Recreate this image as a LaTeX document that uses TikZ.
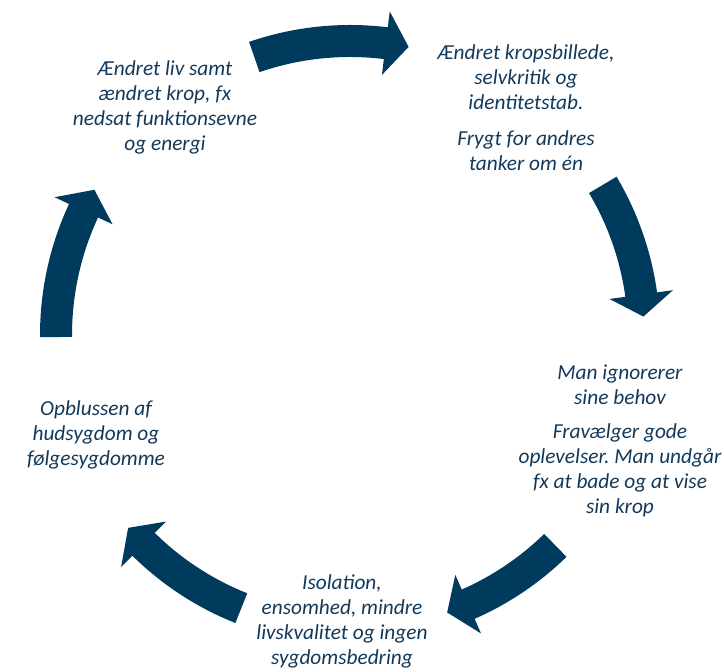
\documentclass[tikz,border=0pt]{standalone}
\usepackage{fontspec}
\setmainfont{Carlito}
\frenchspacing
\definecolor{navy}{HTML}{003A5D}
\definecolor{navytext}{HTML}{12395A}

\begin{document}
\begin{tikzpicture}[x=0.75pt,y=0.75pt,
    txt/.style = {align=center, inner sep=0pt, text=navytext,
                  font=\fontsize{16}{18.75}\selectfont\itshape},
    arr/.style = {fill=navy}]
    \useasboundingbox (0,0) rectangle (724,671);

    \node[txt](liv) at (165,564) {Ændret liv samt\\ændret krop, fx\\nedsat funktionsevne\\og energi};
    \node[txt](krop) at (526,563) {Ændret kropsbillede,\\selvkritik og\\identitetstab.\\[8pt]Frygt for andres\\tanker om én};
    \node[txt](behov) at (620,230) {Man ignorerer\\sine behov\\[7pt]Fravælger gode\\oplevelser. Man undgår\\fx at bade og at vise\\sin krop};
    \node[txt](iso) at (342,50) {Isolation,\\ensomhed, mindre\\livskvalitet og ingen\\sygdomsbedring};
    \node[txt](hud) at (96,236) {Opblussen af\\hudsygdom og\\følgesygdomme};

    \begin{scope}[shift={(350,336)}]
        \fill[arr] (109:310) arc[start angle=109,end angle=83,radius=310] -- (83:326) -- (78.5:294) -- (83:262) -- (83:278) arc[start angle=83,end angle=109,radius=278] -- cycle;
        \fill[arr] (30.7:310) arc[start angle=30.7,end angle=7.9,radius=310] -- (7.9:326) -- (3.6:294) -- (7.9:262) -- (7.9:278) arc[start angle=7.9,end angle=30.7,radius=278] -- cycle;
        \fill[arr] (-45.7:310) arc[start angle=-45.7,end angle=-66.3,radius=310] -- (-66.3:326) -- (-70.7:294) -- (-66.3:262) -- (-66.3:278) arc[start angle=-66.3,end angle=-45.7,radius=278] -- cycle;
        \fill[arr] (-111.7:310) arc[start angle=-111.7,end angle=-134.6,radius=310] -- (-134.6:326) -- (-139:294) -- (-134.6:262) -- (-134.6:278) arc[start angle=-134.6,end angle=-111.7,radius=278] -- cycle;
        \fill[arr] (180.4:310) arc[start angle=180.4,end angle=155,radius=310] -- (155:326) -- (150.4:294) -- (155:262) -- (155:278) arc[start angle=155,end angle=180.4,radius=278] -- cycle;
    \end{scope}
\end{tikzpicture}
\end{document}
